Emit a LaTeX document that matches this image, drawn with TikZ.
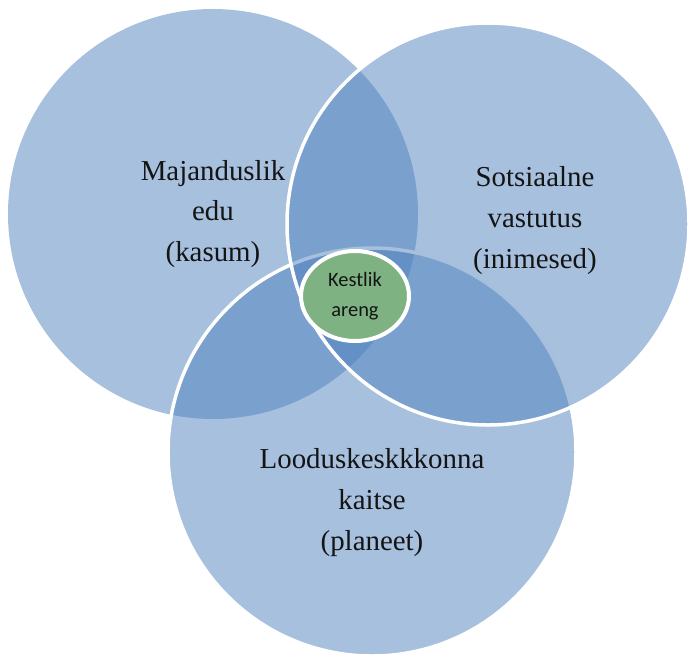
\documentclass[tikz,border=0pt]{standalone}
\usepackage{fontspec}
\setmainfont{Liberation Serif}
\newfontfamily\corefont{Carlito}
\usepackage{xcolor}
\usepackage{tikz}
\usetikzlibrary{shapes.geometric}
\definecolor{pillarblue}{RGB}{79,129,189}
\definecolor{coregreen}{RGB}{126,178,130}
\definecolor{inkblack}{RGB}{20,20,20}
\tikzset{
  pillar/.style={circle,fill=pillarblue,fill opacity=0.5,draw opacity=1,
    inner sep=0pt,line width=3.5bp},
  rimmed/.style={draw=white},
  pillartext/.style={font=\fontsize{29}{41}\selectfont,align=center,
    text=inkblack},
  core/.style={ellipse,draw=white,line width=4bp,fill=coregreen,
    minimum width=108bp,minimum height=90bp,inner sep=0pt,align=center,
    font=\corefont\fontsize{20.5}{30}\selectfont,text=inkblack}
}

\begin{document}
\begin{tikzpicture}[x=1bp,y=-1bp]
  \useasboundingbox (0,0) rectangle (692,658);
  \node[pillar,minimum size=410bp] (econ) at (213,214) {};
  \node[pillar,rimmed,minimum size=408bp] (env) at (372,452) {};
  \node[pillar,rimmed,minimum size=402bp] (soc) at (488,224) {};
  \node[core] (goal) at (355,296) {Kestlik\\areng};
  \node[pillartext] (econtext) at (econ) {Majanduslik\\edu\\(kasum)};
  \node[pillartext,xshift=47bp,yshift=3.5bp] (soctext) at (soc)
    {Sotsiaalne\\vastutus\\(inimesed)};
  \node[pillartext,yshift=-50.5bp] (envtext) at (env)
    {Looduskeskkkonna\\kaitse\\(planeet)};
\end{tikzpicture}
\end{document}
